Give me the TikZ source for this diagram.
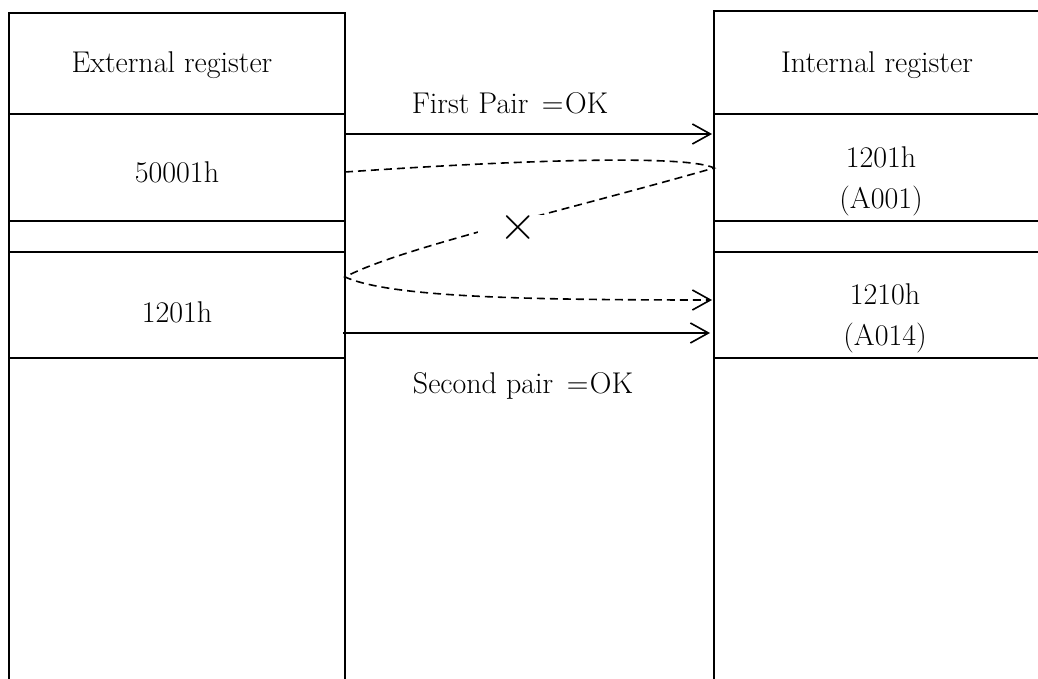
\documentclass[tikz,border=0pt]{standalone}
\usetikzlibrary{arrows.meta}

\begin{document}
\begin{tikzpicture}[x=0.5pt,y=-0.5pt,line width=0.8pt,
  font=\fontsize{15}{20.5}\selectfont,
  okarrow/.style={-{Straight Barb[length=9pt,width=10pt]}},
  badpath/.style={dash pattern=on 4pt off 2.5pt}]
\useasboundingbox (0,0) rectangle (1038,679);
\clip (0,0) rectangle (1038,679);
% external register column
\draw (9,700) -- (9,13) -- (345,13) -- (345,700);
\foreach \y in {114,221,252,358}
  \draw (9,\y) -- (345,\y);
% internal register column
\draw (1050,11) -- (714,11) -- (714,700);
\foreach \y in {114,221,252,358}
  \draw (714,\y) -- (1050,\y);
% cell texts
\node (extname) at (172,65) {External register};
\node (extA) at (177,172) {50001h};
\node (extB) at (177,312) {1201h};
\node (intname) at (877,65) {Internal register};
\node[align=center] (intA) at (881,181) {1201h\\(A001)};
\node[align=center] (intB) at (885,318) {1210h\\(A014)};
% ends on the column walls
\coordinate (fromA) at (345,134);
\coordinate (toA) at (712,134);
\coordinate (fromB) at (343,333);
\coordinate (toB) at (710,333);
\coordinate (loopS) at (345,172);
\coordinate (loopR) at (714,168);
\coordinate (loopL) at (345,277);
\coordinate (loopE) at (712,300);
% pairs
\draw[okarrow] (fromA) -- (toA);
\draw[okarrow] (fromB) -- (toB);
\node (okA) at (510,103) {First Pair\hspace{0.45em}=\hspace{0.05em}OK};
\node (okB) at (523,386) {Second pair\hspace{0.45em}=\hspace{0.05em}OK};
% wrong pairing
\draw[badpath,okarrow] (loopS) .. controls (550,158) and (690,156) .. (loopR)
  .. controls (560,212) and (400,248) .. (loopL)
  .. controls (390,297) and (520,300) .. (loopE);
\node[fill=white,minimum width=40pt,minimum height=13pt,inner sep=0pt,
  font=\fontsize{26}{26}\selectfont] (cross) at (518,228) {×};
\end{tikzpicture}
\end{document}
